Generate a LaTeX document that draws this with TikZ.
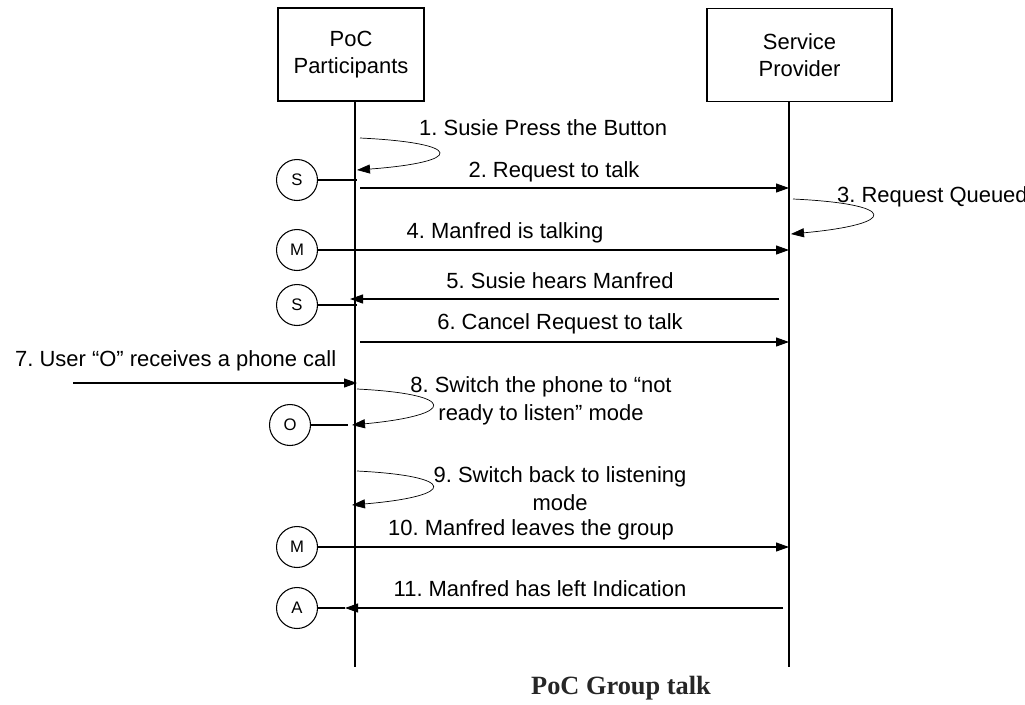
\documentclass[tikz,border=0pt]{standalone}
\usepackage{fontspec}
\setmainfont{Liberation Sans}
\newfontfamily\titlefont{Liberation Serif}
\usetikzlibrary{arrows.meta,positioning}
\frenchspacing

\begin{document}
\begin{tikzpicture}[x=0.02cm,y=-0.02cm,
        font=\fontsize{12.5}{15.2}\selectfont,
        actor/.style={draw,line width=0.8pt,minimum height=1.86cm,align=center},
        user/.style={draw,circle,fill=white,line width=0.6pt,minimum size=0.82cm,inner sep=0pt,font=\fontsize{9.5}{11}\selectfont},
        msg/.style={line width=0.6pt,-{Triangle[length=2.6mm,width=1.8mm]}},
        loopmsg/.style={line width=0.4pt,-{Triangle[length=2.6mm,width=1.8mm]}},
        tie/.style={line width=0.6pt},
        lifeline/.style={line width=0.8pt},
        note/.style={align=center,font=\fontsize{12.5}{16}\selectfont}]
        \useasboundingbox (0,0) rectangle (1025,704);

        % Actors and lifelines
        \node[actor,minimum width=2.92cm] (pp) at (351,54.5) {PoC\\Participants};
        \node[actor,minimum width=3.7cm] (sp) at (799.5,55) {Service\\Provider};
        \coordinate (pptop) at (355,101);
        \coordinate (ppbot) at (355,667);
        \coordinate (sptop) at (789,102);
        \coordinate (spbot) at (789,667);
        \draw[lifeline] (pptop) -- (ppbot);
        \draw[lifeline] (sptop) -- (spbot);

        % 1. button pressed
        \coordinate (l1a) at (360,138);
        \coordinate (l1b) at (357,170);
        \draw[loopmsg] (l1a) .. controls (465,143) and (465,162) .. (l1b);
        \node[anchor=west] (t1) at (413,128) {1. Susie Press the Button};

        % 2. request
        \node[user] (u2) at (297,180) {S};
        \coordinate (u2l) at (357,180);
        \draw[tie] (u2) -- (u2l);
        \coordinate (m2a) at (360,188);
        \coordinate (m2b) at (789,188);
        \draw[msg] (m2a) -- (m2b);
        \node (t2) at (554,172) {2. Request to talk};

        % 3. queued
        \coordinate (l3a) at (793,199);
        \coordinate (l3b) at (791,234);
        \draw[loopmsg] (l3a) .. controls (899,204) and (899,224) .. (l3b);
        \node[anchor=west] (t3) at (831,197) {3. Request Queued};

        % 4. talking
        \node[user] (u4) at (297,250) {M};
        \coordinate (m4a) at (318,250);
        \coordinate (m4b) at (789,250);
        \draw[msg] (m4a) -- (m4b);
        \node (t4) at (505,233) {4. Manfred is talking};

        % 5. hears
        \coordinate (m5a) at (779,299);
        \coordinate (m5b) at (350,299);
        \draw[msg] (m5a) -- (m5b);
        \node (t5) at (560,281) {5. Susie hears Manfred};
        \node[user] (u5) at (297,305) {S};
        \coordinate (u5l) at (357,305);
        \draw[tie] (u5) -- (u5l);

        % 6. cancel
        \coordinate (m6a) at (360,342);
        \coordinate (m6b) at (789,342);
        \draw[msg] (m6a) -- (m6b);
        \node (t6) at (560,324) {6. Cancel Request to talk};

        % 7. phone call
        \coordinate (m7a) at (73,383);
        \coordinate (m7b) at (357,383);
        \draw[msg] (m7a) -- (m7b);
        \node[anchor=west] (t7) at (9,361) {7. User “O” receives a phone call};

        % 8. not ready
        \coordinate (l8a) at (357,389);
        \coordinate (l8b) at (352,425);
        \draw[loopmsg] (l8a) .. controls (458,394) and (458,415) .. (l8b);
        \node[note] (t8) at (541,401) {8. Switch the phone to “not\\ready to listen” mode};
        \node[user] (u8) at (290,425) {O};
        \coordinate (u8l) at (348,425);
        \draw[tie] (u8) -- (u8l);

        % 9. back to listening
        \coordinate (l9a) at (357,471);
        \coordinate (l9b) at (352,505);
        \draw[loopmsg] (l9a) .. controls (458,476) and (458,496) .. (l9b);
        \node[note] (t9) at (560,489) {9. Switch back to listening\\mode};

        % 10. leaves
        \node[user] (u10) at (297,547) {M};
        \coordinate (m10a) at (318,547);
        \coordinate (m10b) at (789,547);
        \draw[msg] (m10a) -- (m10b);
        \node (t10) at (531,530) {10. Manfred leaves the group};

        % 11. left indication
        \node[user] (u11) at (297,608) {A};
        \coordinate (m11a) at (783,608);
        \coordinate (m11b) at (345,608);
        \draw[msg] (m11a) -- (m11b);
        \draw[tie] (u11) -- (m11b);
        \node (t11) at (540,589) {11. Manfred has left Indication};

        % Caption
        \node[text=black!85,font=\titlefont\fontsize{15}{18}\selectfont\bfseries] (cap) at (621,688) {PoC Group talk};
    \end{tikzpicture}
\end{document}
